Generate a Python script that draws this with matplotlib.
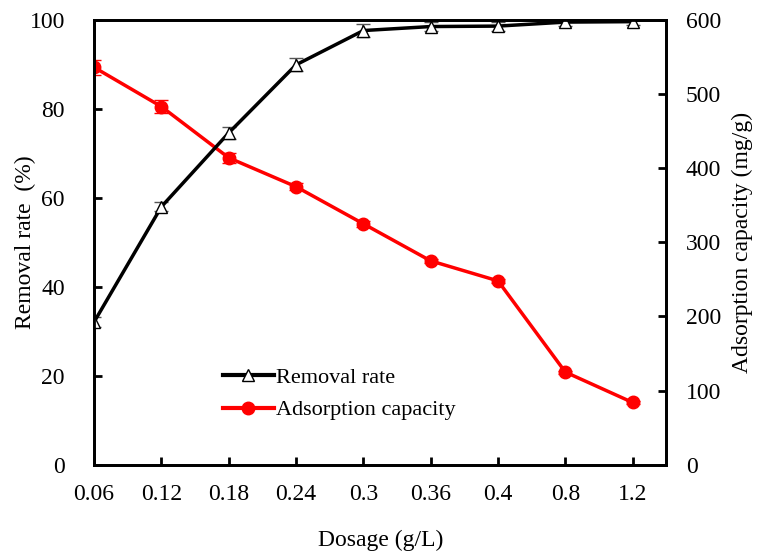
import numpy as np
import matplotlib.pyplot as plt
from matplotlib.lines import Line2D

plt.rcParams["font.family"] = ["Liberation Serif", "DejaVu Serif"]

dosage = ["0.06", "0.12", "0.18", "0.24", "0.3", "0.36", "0.4", "0.8", "1.2"]
removal = [32.1, 58.0, 74.6, 89.9, 97.6, 98.5, 98.6, 99.5, 99.6]
removal_err = [1.2, 1.0, 1.3, 1.5, 1.5, 1.0, 1.0, 0.8, 0.8]
capacity = [536, 483, 414, 375, 325, 275, 248, 125, 84]
capacity_err = [10, 9, 7, 5, 4, 3, 3, 2, 2]

x = np.arange(len(dosage))

fig, ax = plt.subplots(figsize=(7.65, 5.52), dpi=100)
ax2 = ax.twinx()

ax.errorbar(x, removal, yerr=removal_err, color="black", lw=2.5, marker="^",
            mfc="white", mec="black", ms=8, mew=1, capsize=5, ecolor="#555555",
            elinewidth=1.2)
ax2.errorbar(x, capacity, yerr=capacity_err, color="red", lw=2.5, marker="o",
             ms=9, capsize=5, ecolor="red", elinewidth=1.2)

ax.set_zorder(ax2.get_zorder() + 1)
ax.patch.set_visible(False)

ax.set_xlim(0, 8.5)
ax.set_ylim(0, 100)
ax2.set_ylim(0, 600)
ax.set_xticks(x)
ax.set_xticklabels(dosage)
ax.set_yticks(range(0, 101, 20))
ax2.set_yticks(range(0, 601, 100))

for a in (ax, ax2):
    for s in a.spines.values():
        s.set_linewidth(2)
    a.tick_params(direction="in", length=6, width=2, labelsize=17, pad=14)
ax.tick_params(axis="y", pad=21)
ax.tick_params(axis="x", pad=14)

ax.set_xlabel("Dosage (g/L)", fontsize=17, labelpad=18)
ax.set_ylabel("Removal rate  (%)", fontsize=17)
ax.yaxis.set_label_coords(-0.102, 0.5)
ax2.set_ylabel("Adsorption capacity (mg/g)", fontsize=17, labelpad=8)

h1 = Line2D([], [], color="black", lw=3, marker="^", mfc="white", mec="black", ms=8, mew=1)
h2 = Line2D([], [], color="red", lw=3, marker="o", ms=9)
ax.legend([h1, h2], ["Removal rate", "Adsorption capacity"], loc="lower left",
          bbox_to_anchor=(0.19, 0.055), frameon=False, fontsize=16,
          handlelength=2.3, handletextpad=0.1, labelspacing=0.55)

plt.subplots_adjust(left=0.123, right=0.871, top=0.964, bottom=0.158)
plt.savefig("out.png", dpi=100)
